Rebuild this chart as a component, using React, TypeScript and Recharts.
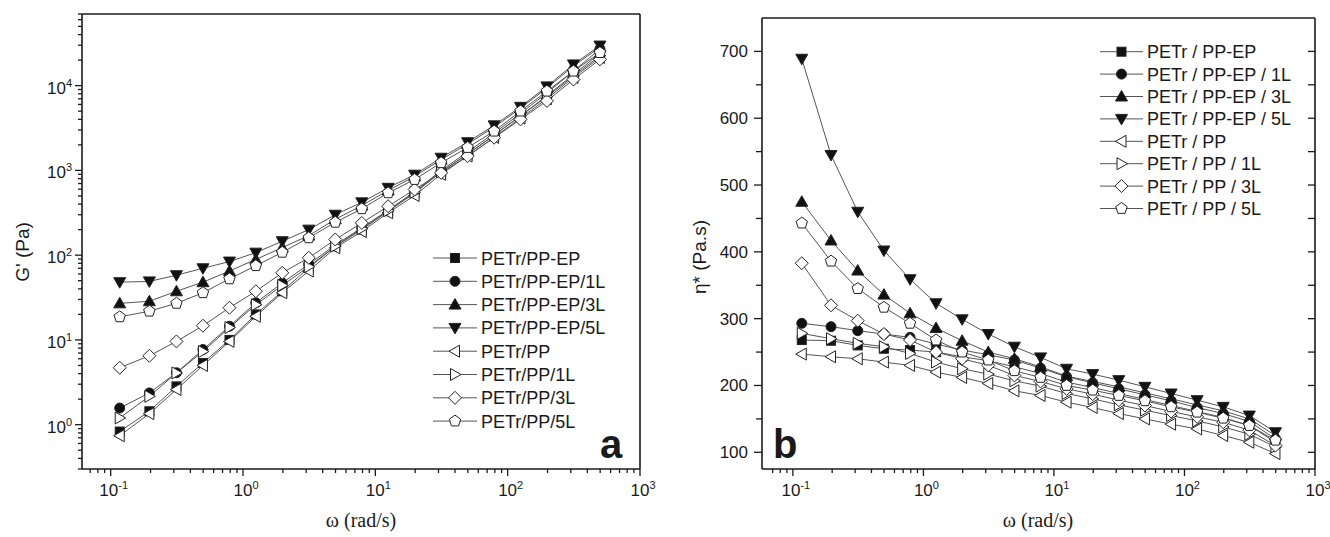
import React from "react";
import { LineChart, Line, XAxis, YAxis } from "recharts";

// angular frequency, rad/s (same sweep for both panels)
const freq = [0.117, 0.196, 0.314, 0.498, 0.79, 1.25, 1.98, 3.14, 4.98, 7.9, 12.5, 19.8, 31.4, 49.8, 79, 125, 198, 314, 498];

// panel a: G' (Pa)
const gEP = [0.83, 1.44, 2.83, 5.35, 10, 20, 37.5, 71, 127, 200, 330, 540, 960, 1550, 2600, 4400, 7600, 13500, 24000];
const gEP1 = [1.57, 2.37, 4.1, 7.7, 14.5, 27.4, 47, 78, 132, 210, 340, 560, 1000, 1650, 2750, 4700, 8200, 14800, 27000];
const gEP3 = [27, 28.6, 37.5, 48, 65, 89, 123, 170, 265, 385, 580, 850, 1340, 2050, 3250, 5400, 9400, 17000, 28500];
const gEP5 = [48, 49, 58, 70, 84, 107, 146, 200, 300, 420, 623, 890, 1410, 2150, 3400, 5620, 9800, 17800, 29700];
const gPP = [0.74, 1.35, 2.6, 5.0, 9.6, 19, 36, 65, 122, 190, 316, 505, 900, 1480, 2450, 4150, 7000, 12500, 21500];
const gPP1 = [1.2, 2.16, 4.08, 7.3, 14, 26, 44, 73, 128, 205, 335, 550, 960, 1560, 2600, 4400, 7400, 13000, 22500];
const gPP3 = [4.7, 6.5, 9.6, 14.7, 24, 37.5, 62, 93, 153, 240, 378, 595, 935, 1470, 2430, 4000, 6600, 11800, 20400];
const gPP5 = [18.7, 21.8, 27, 36, 52.5, 75, 108, 160, 244, 352, 543, 780, 1230, 1860, 2900, 5000, 8600, 14800, 24500];

// panel b: eta* (Pa.s)
const etaEP = [268, 267, 260, 255, 253, 250, 243, 237, 228, 218, 205, 197, 188, 179, 170, 161, 152, 140, 115];
const etaEP1 = [293, 288, 282, 277, 272, 262, 253, 246, 238, 226, 213, 204, 195, 186, 177, 167, 158, 146, 120];
const etaEP3 = [475, 417, 372, 336, 308, 286, 267, 250, 240, 228, 214, 206, 198, 189, 180, 171, 162, 150, 125];
const etaEP5 = [689, 545, 460, 402, 359, 323, 299, 277, 258, 242, 225, 217, 208, 198, 188, 178, 168, 155, 130];
const etaPP = [247, 243, 240, 235, 230, 220, 212, 203, 192, 185, 175, 167, 158, 150, 142, 135, 125, 115, 98];
const etaPP1 = [278, 270, 263, 258, 248, 235, 225, 217, 207, 199, 188, 180, 171, 163, 155, 147, 138, 127, 108];
const etaPP3 = [383, 320, 297, 277, 268, 250, 240, 230, 215, 206, 195, 187, 178, 170, 161, 153, 145, 133, 110];
const etaPP5 = [443, 386, 345, 317, 293, 268, 250, 238, 222, 212, 200, 193, 185, 177, 168, 160, 151, 140, 118];

const legendA = ["PETr/PP-EP", "PETr/PP-EP/1L", "PETr/PP-EP/3L", "PETr/PP-EP/5L", "PETr/PP", "PETr/PP/1L", "PETr/PP/3L", "PETr/PP/5L"];
const legendB = ["PETr / PP-EP", "PETr / PP-EP / 1L", "PETr / PP-EP / 3L", "PETr / PP-EP / 5L", "PETr / PP", "PETr / PP / 1L", "PETr / PP / 3L", "PETr / PP / 5L"];
const markerKinds = ["square", "circle", "up", "down", "left", "right", "diamond", "pentagon"];
const markerFilled = [true, true, true, true, false, false, false, false];

const decades = [0.1, 1, 10, 100, 1000, 10000];
const freqTicks = [0.07, 0.08, 0.09, 0.1, 0.2, 0.3, 0.4, 0.5, 0.6, 0.7, 0.8, 0.9, 1, 2, 3, 4, 5, 6, 7, 8, 9, 10, 20, 30, 40, 50, 60, 70, 80, 90, 100, 200, 300, 400, 500, 600, 700, 800, 900, 1000];
const gTicks = [0.3, 0.4, 0.5, 0.6, 0.7, 0.8, 0.9, 1, 2, 3, 4, 5, 6, 7, 8, 9, 10, 20, 30, 40, 50, 60, 70, 80, 90, 100, 200, 300, 400, 500, 600, 700, 800, 900, 1000, 2000, 3000, 4000, 5000, 6000, 7000, 8000, 9000, 10000, 20000, 30000, 40000, 50000, 60000, 70000];
const etaTicks = [100, 150, 200, 250, 300, 350, 400, 450, 500, 550, 600, 650, 700];

const gSeries = [gEP, gEP1, gEP3, gEP5, gPP, gPP1, gPP3, gPP5];
const etaSeries = [etaEP, etaEP1, etaEP3, etaEP5, etaPP, etaPP1, etaPP3, etaPP5];

const rowsA = freq.map((w, i) => {
  const r: Record<string, number> = { w };
  gSeries.forEach((s, k) => (r[`s${k}`] = s[i]));
  return r;
});
const rowsB = freq.map((w, i) => {
  const r: Record<string, number> = { w };
  etaSeries.forEach((s, k) => (r[`s${k}`] = s[i]));
  return r;
});

const INK = "#1a1a1a";
const SANS = "'Liberation Sans', Arial, sans-serif";
const SERIF = "'Liberation Serif', 'Times New Roman', serif";

function marker(kind: string, cx: number, cy: number, filled: boolean) {
  const p = { fill: filled ? "#111" : "#fff", stroke: "#222", strokeWidth: 1 };
  const pts = (a: number[][]) => a.map((q) => q.join(",")).join(" ");
  switch (kind) {
    case "square":
      return <rect x={cx - 4.5} y={cy - 4.5} width={9} height={9} {...p} />;
    case "circle":
      return <circle cx={cx} cy={cy} r={5} {...p} />;
    case "up":
      return <polygon points={pts([[cx, cy - 6], [cx + 6, cy + 4.5], [cx - 6, cy + 4.5]])} {...p} />;
    case "down":
      return <polygon points={pts([[cx, cy + 6], [cx + 6, cy - 4.5], [cx - 6, cy - 4.5]])} {...p} />;
    case "left":
      return <polygon points={pts([[cx - 6, cy], [cx + 4.5, cy - 6], [cx + 4.5, cy + 6]])} {...p} />;
    case "right":
      return <polygon points={pts([[cx + 6, cy], [cx - 4.5, cy - 6], [cx - 4.5, cy + 6]])} {...p} />;
    case "diamond":
      return <polygon points={pts([[cx, cy - 6.5], [cx + 6.5, cy], [cx, cy + 6.5], [cx - 6.5, cy]])} {...p} />;
    default: {
      const a = [0, 1, 2, 3, 4].map((j) => {
        const t = ((-90 + 72 * j) * Math.PI) / 180;
        return [cx + 6 * Math.cos(t), cy + 6 * Math.sin(t)];
      });
      return <polygon points={pts(a)} {...p} />;
    }
  }
}

const isDecade = (v: number) => decades.some((d) => Math.abs(d - v) / d < 1e-6);
const expOf = (v: number) => Math.round(Math.log10(v));

function FreqTick(props: any) {
  const { x, y, payload, inward } = props;
  const v = payload.value;
  const major = isDecade(v);
  const len = major ? 7 : 4;
  const y2 = inward ? y + len : y + len;
  return (
    <g>
      <line x1={x} x2={x} y1={y} y2={y2} stroke={INK} strokeWidth={1.3} />
      {!inward && major && (
        <text x={x + 3} y={y + 27} textAnchor="middle" fontFamily={SANS} fontSize={17} fill={INK}>
          10<tspan dy={-7} fontSize={11}>{expOf(v)}</tspan>
        </text>
      )}
    </g>
  );
}

function GTick(props: any) {
  const { x, y, payload } = props;
  const v = payload.value;
  const major = isDecade(v);
  return (
    <g>
      <line x1={x} x2={x - (major ? 7 : 4)} y1={y} y2={y} stroke={INK} strokeWidth={1.3} />
      {major && (
        <text x={x - 10} y={y + 8} textAnchor="end" fontFamily={SANS} fontSize={17} fill={INK}>
          10<tspan dy={-7} fontSize={11}>{expOf(v)}</tspan>
        </text>
      )}
    </g>
  );
}

function EtaTick(props: any) {
  const { x, y, payload, inward } = props;
  const v = payload.value;
  const major = v % 100 === 0;
  const len = inward ? 7 : major ? 8 : 6;
  return (
    <g>
      <line x1={x} x2={x - len} y1={y} y2={y} stroke={INK} strokeWidth={1.3} />
      {!inward && major && (
        <text x={x - 14} y={y + 6} textAnchor="end" fontFamily={SANS} fontSize={17} fill={INK}>
          {v}
        </text>
      )}
    </g>
  );
}

function TopTick(props: any) {
  const { x, y, payload } = props;
  const major = isDecade(payload.value);
  return <line x1={x} x2={x} y1={y} y2={y + (major ? 8 : 5)} stroke={INK} strokeWidth={1.3} />;
}

const axisLine = { stroke: INK, strokeWidth: 1.6 };

function seriesLines() {
  return markerKinds.map((kind, k) => (
    <Line
      key={kind}
      dataKey={`s${k}`}
      type="linear"
      stroke="#555"
      strokeWidth={1}
      isAnimationActive={false}
      activeDot={false}
      dot={(p: any) => (
        <g key={`d${k}-${p.index}`}>{p.cx != null && p.cy != null ? marker(kind, p.cx, p.cy, markerFilled[k]) : null}</g>
      )}
    />
  ));
}

function Legend({ names, x1, x2, y0, dy }: { names: string[]; x1: number; x2: number; y0: number; dy: number }) {
  return (
    <g>
      {names.map((n, i) => {
        const cy = y0 + i * dy;
        return (
          <g key={n}>
            <line x1={x1} x2={x2} y1={cy} y2={cy} stroke="#555" strokeWidth={1} />
            {marker(markerKinds[i], (x1 + x2) / 2, cy, markerFilled[i])}
            <text x={x2 + 4} y={cy + 6.5} fontFamily={SANS} fontSize={18} fill={INK}>
              {n}
            </text>
          </g>
        );
      })}
    </g>
  );
}

export default function App() {
  return (
    <div style={{ position: "absolute", left: 0, top: 0, width: 1330, height: 537, background: "#fff" }}>
      <div style={{ position: "absolute", left: 0, top: 0 }}>
        <LineChart width={660} height={537} data={rowsA} margin={{ top: 13, right: 19, bottom: 8, left: 20 }}>
          <XAxis
            dataKey="w"
            type="number"
            scale="log"
            domain={[0.0607, 1000]}
            allowDataOverflow
            ticks={freqTicks}
            interval={0}
            tickSize={0}
            tickMargin={0}
            tickLine={false}
            tick={<FreqTick />}
            axisLine={axisLine}
            height={60}
          />
          <XAxis xAxisId="top" orientation="top" type="number" domain={[0, 1]} tick={false} tickLine={false} axisLine={axisLine} height={1} />
          <YAxis
            type="number"
            scale="log"
            domain={[0.3, 70000]}
            allowDataOverflow
            ticks={gTicks}
            interval={0}
            tickSize={0}
            tickMargin={0}
            tickLine={false}
            tick={<GTick />}
            axisLine={axisLine}
            width={62}
          />
          <YAxis yAxisId="right" orientation="right" type="number" domain={[0, 1]} tick={false} tickLine={false} axisLine={axisLine} width={1} />
          {seriesLines()}
        </LineChart>
      </div>
      <div style={{ position: "absolute", left: 660, top: 0 }}>
        <LineChart width={670} height={537} data={rowsB} margin={{ top: 17, right: 14, bottom: 8, left: 40 }}>
          <XAxis
            dataKey="w"
            type="number"
            scale="log"
            domain={[0.058, 1000]}
            allowDataOverflow
            ticks={freqTicks}
            interval={0}
            tickSize={0}
            tickMargin={0}
            tickLine={false}
            tick={<FreqTick />}
            axisLine={axisLine}
            height={60}
          />
          <XAxis
            xAxisId="top"
            orientation="top"
            type="number"
            scale="log"
            domain={[0.058, 1000]}
            allowDataOverflow
            ticks={freqTicks}
            interval={0}
            tickSize={0}
            tickMargin={0}
            tickLine={false}
            tick={<TopTick />}
            axisLine={axisLine}
            height={1}
          />
          <YAxis
            type="number"
            domain={[75, 750]}
            allowDataOverflow
            ticks={etaTicks}
            interval={0}
            tickSize={0}
            tickMargin={0}
            tickLine={false}
            tick={<EtaTick />}
            axisLine={axisLine}
            width={62}
          />
          <YAxis
            yAxisId="right"
            orientation="right"
            type="number"
            domain={[75, 750]}
            allowDataOverflow
            ticks={etaTicks}
            interval={0}
            tickSize={0}
            tickMargin={0}
            tickLine={false}
            tick={<EtaTick inward />}
            axisLine={axisLine}
            width={1}
          />
          {seriesLines()}
        </LineChart>
      </div>
      <svg width={1330} height={537} style={{ position: "absolute", left: 0, top: 0, pointerEvents: "none" }}>
        <text transform="translate(29,252) rotate(-90)" textAnchor="middle" fontFamily={SANS} fontSize={19} fill={INK}>
          G' (Pa)
        </text>
        <text transform="translate(706,257) rotate(-90)" textAnchor="middle" fontFamily={SANS} fontSize={19} fill={INK}>
          η* (Pa.s)
        </text>
        <text x={361} y={527} textAnchor="middle" fontFamily={SERIF} fontSize={20} fill={INK}>
          ω (rad/s)
        </text>
        <text x={1038} y={527} textAnchor="middle" fontFamily={SERIF} fontSize={20} fill={INK}>
          ω (rad/s)
        </text>
        <text x={600} y={458} fontFamily={SANS} fontWeight="bold" fontSize={40} fill={INK}>
          a
        </text>
        <text x={773} y={458} fontFamily={SANS} fontWeight="bold" fontSize={40} fill={INK}>
          b
        </text>
        <Legend names={legendA} x1={433} x2={477} y0={258} dy={23.3} />
        <Legend names={legendB} x1={1100} x2={1143} y0={51.7} dy={22.4} />
      </svg>
    </div>
  );
}
